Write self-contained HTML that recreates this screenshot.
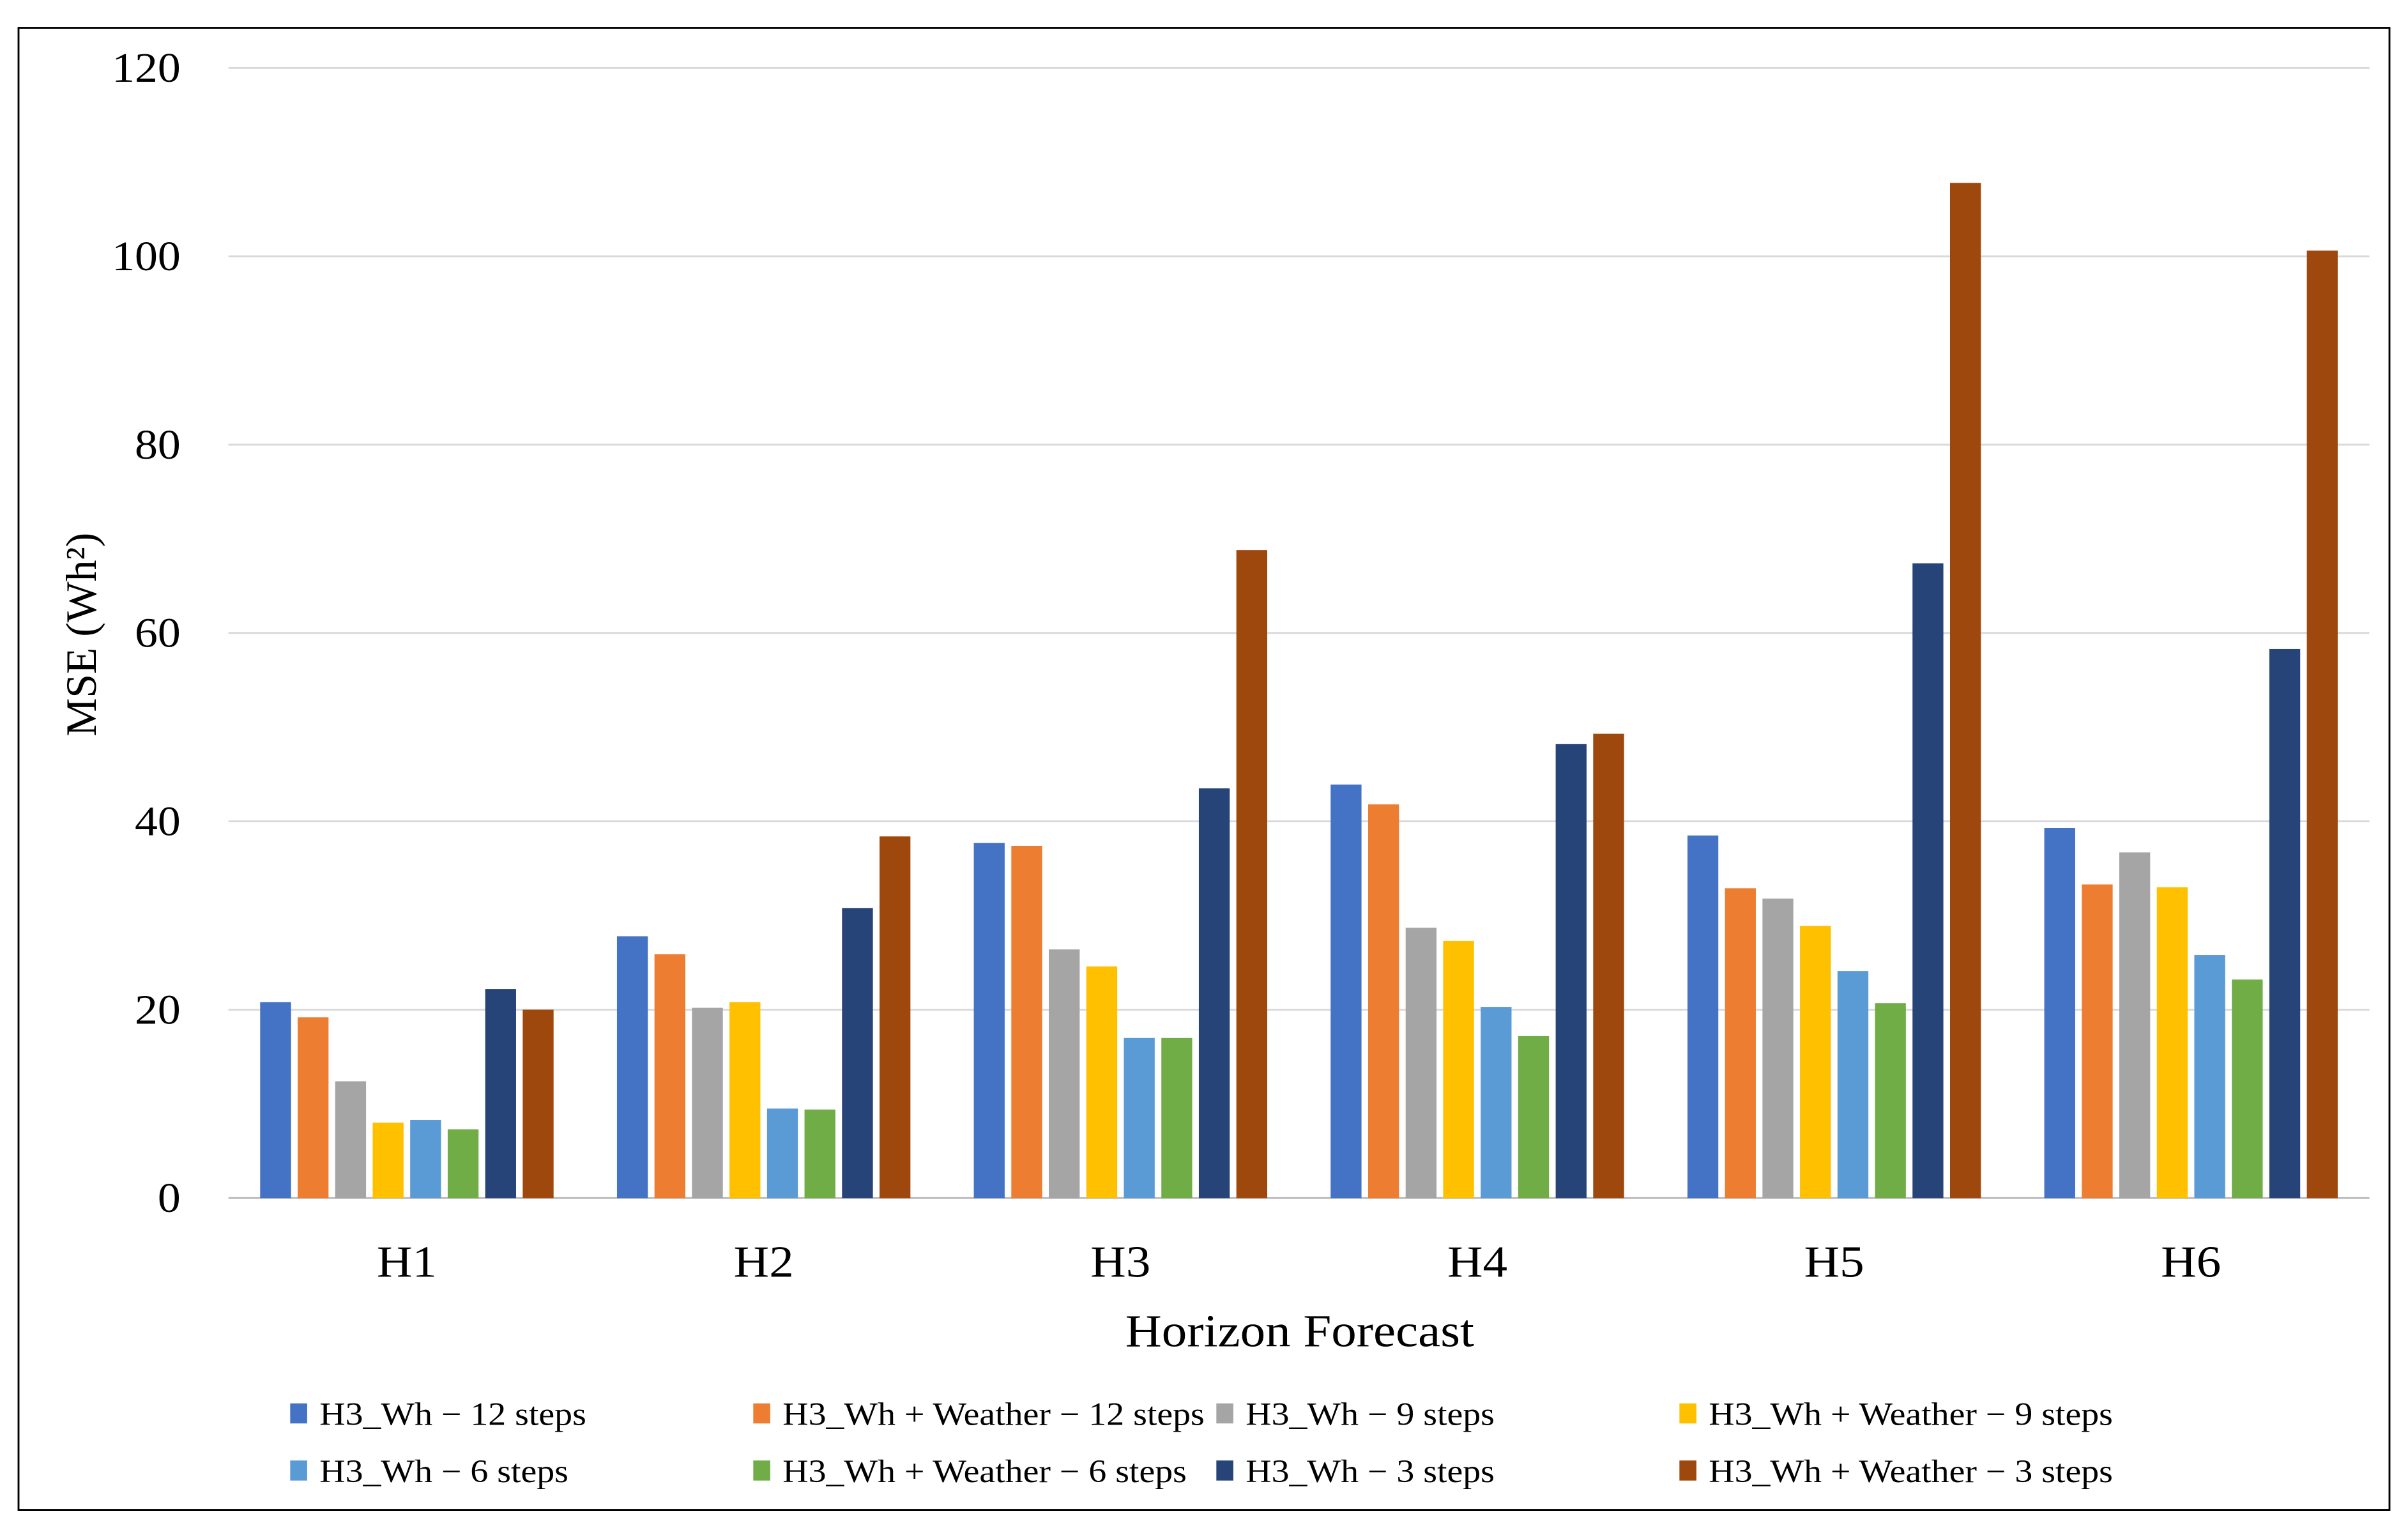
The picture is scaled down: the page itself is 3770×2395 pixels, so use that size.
<!DOCTYPE html>
<html><head><meta charset="utf-8"><style>html,body{margin:0;padding:0;background:#fff}svg{display:block}</style></head>
<body>
<svg id="chart" xmlns="http://www.w3.org/2000/svg" width="3770" height="2395" viewBox="0 0 1560 991" font-family="'Liberation Serif', serif">
<rect x="12" y="18" width="1536" height="960" fill="#fff" stroke="#000" stroke-width="1.2"/>
<g id="grid"></g><g id="bars"></g><g id="xlabels"></g><g id="legend"></g>
<text x="842" y="872" font-size="30" text-anchor="middle" textLength="226" lengthAdjust="spacingAndGlyphs">Horizon Forecast</text>
<text transform="translate(62,411) rotate(-90)" font-size="28" text-anchor="middle">MSE (Wh²)</text>
</svg>
<script>
const categories = ["H1","H2","H3","H4","H5","H6"];
const seriesNames = ["H3_Wh − 12 steps","H3_Wh + Weather − 12 steps","H3_Wh − 9 steps","H3_Wh + Weather − 9 steps","H3_Wh − 6 steps","H3_Wh + Weather − 6 steps","H3_Wh − 3 steps","H3_Wh + Weather − 3 steps"];
const s12 = [20.8,27.8,37.7,43.9,38.5,39.3];
const sW12 = [19.2,25.9,37.4,41.8,32.9,33.3];
const s9 = [12.4,20.2,26.4,28.7,31.8,36.7];
const sW9 = [8.0,20.8,24.6,27.3,28.9,33.0];
const s6 = [8.3,9.5,17.0,20.3,24.1,25.8];
const sW6 = [7.3,9.4,17.0,17.2,20.7,23.2];
const s3 = [22.2,30.8,43.5,48.2,67.4,58.3];
const sW3 = [20.0,38.4,68.8,49.3,107.8,100.6];
const yTicks = [0,20,40,60,80,100,120];
const series = [s12,sW12,s9,sW9,s6,sW6,s3,sW3];
const colors = ["#4472C4","#ED7D31","#A5A5A5","#FFC000","#5B9BD5","#70AD47","#264478","#9E480E"];
const NS="http://www.w3.org/2000/svg";
const x0=148,x1=1535,yBase=776,yTop=44;
const y=v=>yBase-(v/120)*(yBase-yTop);
const bandW=(x1-x0)/categories.length;
const bandX=i=>x0+bandW*i;
function mk(tag,attrs,parent){const e=document.createElementNS(NS,tag);for(const k in attrs)e.setAttribute(k,attrs[k]);parent.appendChild(e);return e;}
function stretch(t,k){const w=t.getComputedTextLength();t.setAttribute('textLength',w*k);t.setAttribute('lengthAdjust','spacingAndGlyphs');}
const grid=document.getElementById('grid');
yTicks.forEach(t=>{
  const l=mk('line',{x1:x0,x2:x1,y1:y(t),y2:y(t),stroke:t===0?'#bfbfbf':'#d9d9d9','stroke-width':1.2},grid);
  
  
  const tx=mk('text',{x:117,y:y(t)+9,'font-size':27,'text-anchor':'end'},grid);
  tx.textContent=t;
  
  
  stretch(tx,1.1);
});
const bars=document.getElementById('bars');
const pitch=24.3,bw=20;
categories.forEach((c,i)=>{
  const cx=bandX(i)+bandW/2;
  const start=cx-pitch*series.length/2+(pitch-bw)/2;
  series.forEach((s,j)=>{
    const r=mk('rect',{x:start+j*pitch,y:y(s[i]),width:bw,height:yBase-y(s[i]),fill:colors[j]},bars);
    
    
  });
  const t=mk('text',{x:cx,y:827,'font-size':29,'text-anchor':'middle'},document.getElementById('xlabels'));
  t.textContent=c;
  
  
  stretch(t,1.1);
});
const leg=document.getElementById('legend');
const colX=[188,488,788,1088],rowY=[916,953];
seriesNames.forEach((n,j)=>{
  const cx=colX[j%4],cy=rowY[Math.floor(j/4)];
  const g=mk('g',{},leg);
  
  
  mk('rect',{x:cx,y:cy-7,width:11,height:13,fill:colors[j]},g);
  const t=mk('text',{x:cx+19,y:cy+7,'font-size':21},g);
  t.textContent=n;
  stretch(t,1.1);
});
</script>
</body></html>
